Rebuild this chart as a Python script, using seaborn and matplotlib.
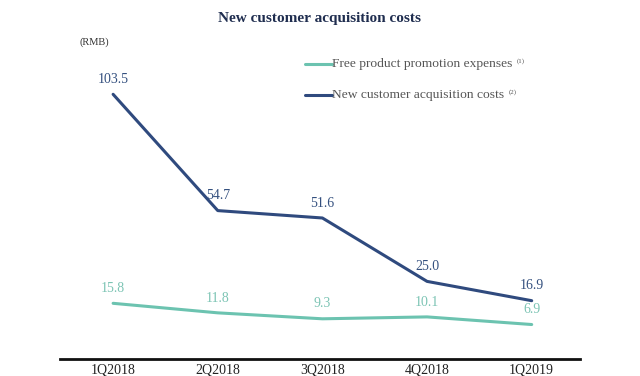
import numpy as np
import pandas as pd
import matplotlib.pyplot as plt
import seaborn as sns

# ── Data ───────────────────────────────────────────────────────────────────────
QUARTERS   = ["1Q2018", "2Q2018", "3Q2018", "4Q2018", "1Q2019"]
FREE_PROMO = [15.8, 11.8, 9.3, 10.1, 6.9]
ACQ_COST   = [103.5, 54.7, 51.6, 25.0, 16.9]

SERIES     = ["Free product promotion expenses", "New customer acquisition costs"]
LEGEND_SUP = ["(1)", "(2)"]
PALETTE    = {SERIES[0]: "#6cc3b0", SERIES[1]: "#2f4a7e"}
LABEL_C    = {SERIES[0]: "#7cc4b4", SERIES[1]: "#34507f"}
TITLE_C    = "#1f2d4f"

df = pd.DataFrame({
    "quarter": QUARTERS * 2,
    "x": list(range(len(QUARTERS))) * 2,
    "value": FREE_PROMO + ACQ_COST,
    "series": [SERIES[0]] * len(QUARTERS) + [SERIES[1]] * len(QUARTERS),
})

# ── Canvas ─────────────────────────────────────────────────────────────────────
sns.set_style("white")
plt.rcParams["font.family"] = ["Liberation Serif", "DejaVu Serif"]

fig = plt.figure(figsize=(6.4, 3.76), dpi=100)
ax = fig.add_axes([0.094, 0.045, 0.812, 0.85])

sns.lineplot(data=df, x="x", y="value", hue="series", hue_order=SERIES,
             palette=PALETTE, linewidth=2.2, legend=False, ax=ax)

# ── Value labels ───────────────────────────────────────────────────────────────
for name, vals in zip(SERIES, [FREE_PROMO, ACQ_COST]):
    for i, v in enumerate(vals):
        ax.annotate(f"{v:.1f}", (i, v), xytext=(0, 6), textcoords="offset points",
                    ha="center", va="bottom", fontsize=10, color=LABEL_C[name])

# ── Axes ───────────────────────────────────────────────────────────────────────
ax.set_xlim(-0.506, 4.46)
ax.set_ylim(-7.6, 126.5)
ax.set_xticks(range(len(QUARTERS)))
ax.set_xticklabels(QUARTERS, fontsize=10, color="#222")
ax.tick_params(axis="x", length=0, pad=3)
ax.set_yticks([])
ax.set_xlabel("")
ax.set_ylabel("")
for s in ["top", "right", "left"]:
    ax.spines[s].set_visible(False)
ax.spines["bottom"].set_color("#111")
ax.spines["bottom"].set_linewidth(2)

# ── Title, unit, legend ────────────────────────────────────────────────────────
fig.text(0.5, 0.952, "New customer acquisition costs", ha="center", va="center",
         fontsize=11, fontweight="bold", color=TITLE_C)
fig.text(0.148, 0.887, "(RMB)", ha="center", va="center", fontsize=7.5, color="#333")

for k, (name, sup) in enumerate(zip(SERIES, LEGEND_SUP)):
    y = 0.83 - k * 0.083
    fig.add_artist(plt.Line2D([0.477, 0.518], [y, y], color=PALETTE[name],
                              linewidth=2.2, transform=fig.transFigure))
    t = fig.text(0.519, y, name, ha="left", va="center", fontsize=9.7, color="#555")
    ax.annotate(sup, xy=(1, 0.75), xycoords=t, xytext=(3, 0),
                textcoords="offset points", ha="left", va="center",
                fontsize=5, color="#555", annotation_clip=False)

fig.savefig("out.png", dpi=100)
